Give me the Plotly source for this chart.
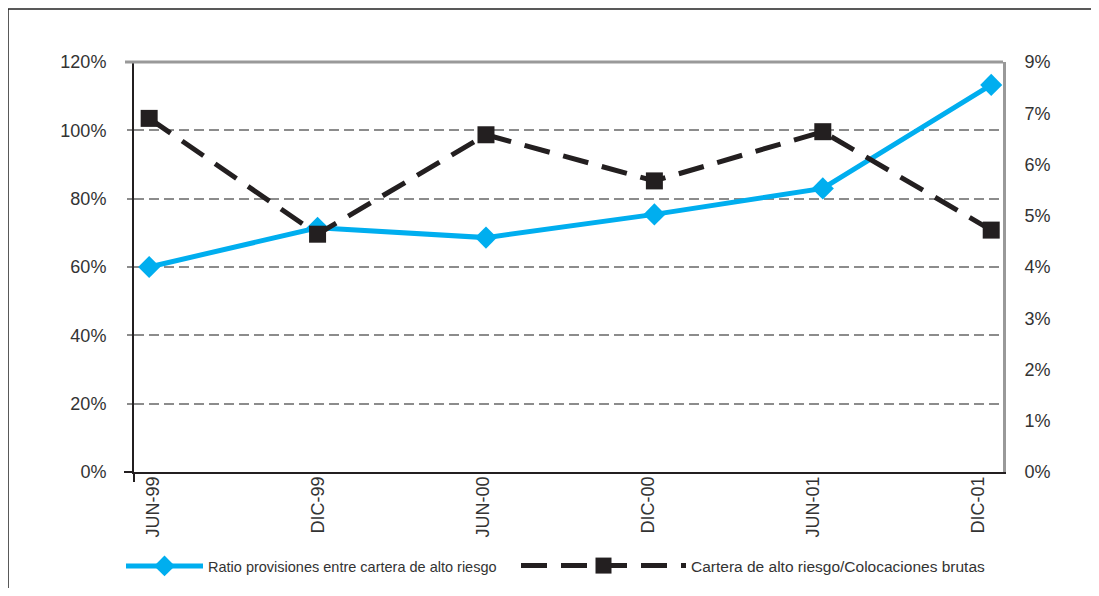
import plotly.graph_objects as go

# ---- data ----
periods = ["JUN-99", "DIC-99", "JUN-00", "DIC-00", "JUN-01", "DIC-01"]
ratio_provisiones = [60.0, 71.5, 68.6, 75.4, 83.0, 113.3]          # left axis, %
cartera_alto_riesgo = [6.90, 4.64, 6.58, 5.68, 6.64, 4.72]         # right axis, %
left_tickvals = [0, 20, 40, 60, 80, 100, 120]
left_ticktext = ["0%", "20%", "40%", "60%", "80%", "100%", "120%"]
right_tickvals = [0, 1, 2, 3, 4, 5, 6, 7, 8]
right_ticktext = ["0%", "1%", "2%", "3%", "4%", "5%", "6%", "7%", "9%"]
name_blue = "Ratio provisiones entre cartera de alto riesgo"
name_black = "Cartera de alto riesgo/Colocaciones brutas"

FONT = "Liberation Sans, Arial, sans-serif"
BLUE = "#00AEEF"
DARK = "#231F20"
GRID = "#8C8C8C"
TXT = "#333333"

OFF = 8  # page body margin
W, H = 1099 - OFF, 596 - 2 * OFF
# plot area in screen pixels
SL, SR, ST, SB = 134, 1003, 62, 472
L, R, T, B = SL - OFF, SR - OFF, ST - OFF, SB - OFF
pw, ph = R - L, B - T

def px_x(s):
    return (s - OFF - L) / pw

def px_y(s):
    return (B - (s - OFF)) / ph

fig = go.Figure()
fig.add_trace(go.Scatter(
    x=periods, y=ratio_provisiones, name=name_blue, mode="lines+markers",
    line=dict(color=BLUE, width=5),
    marker=dict(symbol="diamond", size=17, color=BLUE),
    legend="legend", yaxis="y"))
fig.add_trace(go.Scatter(
    x=periods, y=cartera_alto_riesgo, name=name_black, mode="lines+markers",
    line=dict(color=DARK, width=5, dash="26px,14px"),
    marker=dict(symbol="square", size=17, color=DARK),
    legend="legend2", yaxis="y2"))
# carrier (draws nothing) for the category-label axis
fig.add_trace(go.Scatter(
    x=periods, y=ratio_provisiones, mode="none", xaxis="x2", yaxis="y",
    showlegend=False, hoverinfo="skip"))

shapes = [
    # outer frame (top and left only; rest is cut off)
    dict(type="line", xref="paper", yref="paper", x0=px_x(8), x1=px_x(1200),
         y0=px_y(9), y1=px_y(9), line=dict(color="#222", width=1.5), layer="below"),
    dict(type="line", xref="paper", yref="paper", x0=px_x(8), x1=px_x(8),
         y0=px_y(9), y1=px_y(700), line=dict(color="#222", width=1.5), layer="below"),
    # gray top line
    dict(type="line", xref="paper", yref="paper", x0=px_x(125), x1=1, y0=1, y1=1,
         line=dict(color="#999999", width=3)),
    # axis extensions at the bottom-left corner
    dict(type="line", xref="paper", yref="paper", x0=0, x1=0, y0=0, y1=px_y(482),
         line=dict(color=DARK, width=2)),
    dict(type="line", xref="paper", yref="paper", x0=px_x(124), x1=0, y0=0, y1=0,
         line=dict(color=DARK, width=2)),
]

fig.update_layout(
    width=W, height=H,
    margin=dict(l=L, r=W - R, t=T, b=H - B, autoexpand=False),
    paper_bgcolor="white", plot_bgcolor="white",
    font=dict(family=FONT, size=18, color=TXT),
    showlegend=True,
    xaxis=dict(
        type="category", range=[-0.09, 5.07],
        showline=True, linecolor=DARK, linewidth=2,
        showgrid=False, zeroline=False, ticks="",
        showticklabels=False,
    ),
    xaxis2=dict(
        type="category", categoryarray=periods,
        overlaying="x", anchor="y", side="bottom",
        range=[-0.115, 5.152],
        showline=False, showgrid=False, zeroline=False, ticks="",
        tickangle=-90, tickfont=dict(size=18, color=TXT),
    ),
    yaxis=dict(
        range=[0, 120], tickvals=left_tickvals, ticktext=left_ticktext,
        showline=True, linecolor=DARK, linewidth=2,
        showgrid=True, gridcolor=GRID, gridwidth=2, griddash="10px,5px",
        zeroline=False, ticks="outside", ticklen=5, tickcolor=GRID, tickwidth=2,
        ticklabelstandoff=17,
        tickfont=dict(size=18, color=TXT),
    ),
    yaxis2=dict(
        range=[0, 8], overlaying="y", side="right",
        tickvals=right_tickvals, ticktext=right_ticktext,
        showline=True, linecolor="#999999", linewidth=3,
        showgrid=False, zeroline=False, ticks="",
        ticklabelstandoff=15,
        tickfont=dict(size=18, color=TXT),
    ),
    legend=dict(
        orientation="h", x=px_x(121), y=px_y(566), xanchor="left", yanchor="middle",
        itemwidth=77, font=dict(size=14.5, color=TXT), bgcolor="rgba(0,0,0,0)",
    ),
    legend2=dict(
        orientation="h", x=px_x(516), y=px_y(566), xanchor="left", yanchor="middle",
        itemwidth=165, font=dict(size=15.5, color=TXT), bgcolor="rgba(0,0,0,0)",
    ),
    shapes=shapes,
)

fig.write_html(
    "out.html",
    post_script="document.body.style.overflow='hidden';"
                "document.documentElement.style.overflow='hidden';",
)
